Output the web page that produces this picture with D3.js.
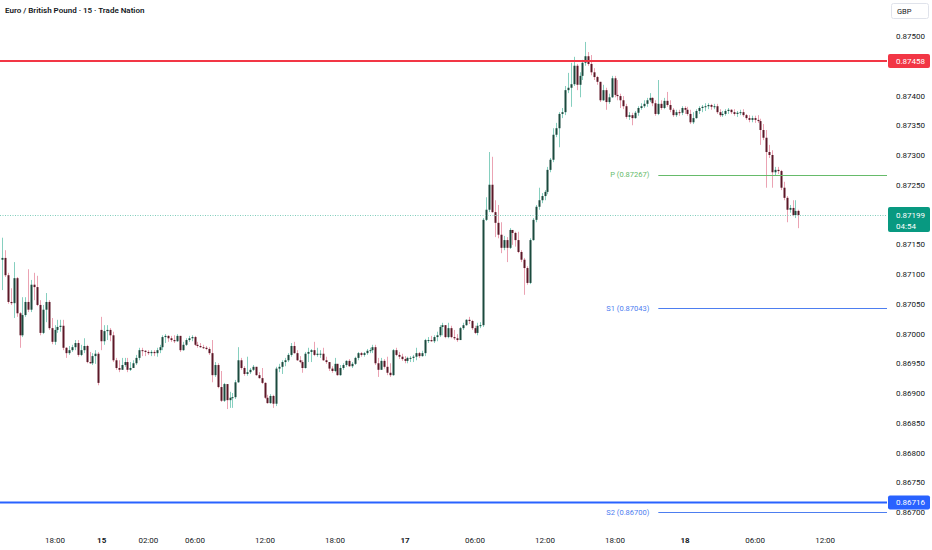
<!DOCTYPE html>
<html>
<head>
<meta charset="utf-8">
<script src="https://cdn.jsdelivr.net/npm/d3@7"></script>
<style>
  body { margin: 0; background: #fff; }
  svg { display: block; font-family: Roboto, "Noto Sans", sans-serif; }
</style>
</head>
<body>
<svg id="chart" width="932" height="550"></svg>
<script>
// EUR/GBP 15m candles, prices in 1e-5 units (open = previous close)
const PT = 1e-5;
const firstOpen = 87124;
const gapOpens = { 34: 87006 }; // weekend gap

const closes = [
  87127, 87098, 87053, 87051, 87093, 87034, 86997, 87031, 87053, 87040, 87082, 87078, 87048, 87001, 87040, 87053,
  87009, 86986, 87006, 87011, 87013, 86976, 86967, 86972, 86977, 86984, 86964, 86972, 86979, 86952, 86950, 86962,
  86966, 86917, 86987, 87004, 87006, 86997, 86955, 86942, 86939, 86947, 86952, 86939, 86942, 86950, 86959, 86972,
  86971, 86969, 86967, 86969, 86967, 86972, 86977, 86994,
  86996, 86992, 86989, 86987, 86996, 86972, 86981, 86989, 86992, 86994, 86981, 86979, 86977, 86976, 86974, 86967,
  86930, 86947, 86910, 86887, 86915, 86888, 86892, 86893, 86918, 86955, 86942, 86932, 86935, 86939, 86944, 86930,
  86925, 86917, 86892, 86883, 86895, 86882, 86941, 86944, 86952, 86955, 86964, 86979, 86967, 86955, 86952, 86942,
  86966, 86969, 86972, 86964, 86966, 86966,
  86955, 86952, 86941, 86937, 86949, 86930, 86942, 86947, 86954, 86945, 86949, 86959, 86967, 86964, 86967, 86971,
  86972, 86977, 86950, 86939, 86954, 86944, 86934, 86930, 86972, 86964, 86961, 86957, 86954, 86959, 86959, 86961,
  86967, 86962, 86967, 86989, 86989, 86987, 86994, 86997, 87011, 87014, 86994, 87009, 86994, 86992, 86989, 87009,
  87014, 87023, 87021, 87009, 87001, 87013, 87014, 87191, 87208, 87250, 87204, 87186, 87166, 87144, 87157, 87144,
  87174, 87169, 87157, 87137, 87124, 87110, 87085, 87157, 87191,
  87213, 87224, 87231, 87238, 87275, 87292, 87334, 87345, 87369, 87372, 87409, 87413, 87419, 87450, 87418, 87433,
  87455, 87466, 87453, 87439, 87431, 87423, 87392, 87409, 87389, 87397, 87429, 87401, 87399, 87392, 87382, 87364,
  87367, 87362, 87371, 87379, 87382, 87386, 87392, 87396, 87387, 87369, 87386, 87379, 87391, 87384, 87376, 87367,
  87372, 87371, 87379, 87376, 87369, 87355, 87362, 87374, 87379, 87381, 87382, 87384, 87381, 87382, 87372, 87367,
  87369, 87374, 87376, 87372, 87369, 87371, 87372, 87367, 87362, 87359, 87362, 87359, 87357, 87342, 87329, 87305,
  87300, 87271, 87275, 87273, 87245, 87228, 87208, 87211, 87199, 87206, 87199
];

const highs = [
  87161, 87140, 87102, 87076, 87120, 87095, 87036, 87061, 87061, 87108, 87090, 87102, 87097, 87056, 87048, 87068,
  87056, 87026, 87014, 87023, 87023, 87023, 86977, 86979, 86981, 86989, 86989, 86981, 86992, 86981, 86969, 86967,
  86972, 86969, 87028, 87014, 87014, 87009, 87003, 86959, 86955, 86959, 86959, 86959, 86952, 86955, 86964, 86976,
  86976, 86972, 86972, 86972, 86972, 86976, 86981, 86997,
  86999, 86997, 86996, 86997, 86999, 86992, 86986, 86992, 86996, 86997, 86996, 86986, 86984, 86981, 86979, 86977,
  86989, 86952, 86950, 86937, 86917, 86913, 86902, 86900, 86922, 86977, 86959, 86945, 86961, 86942, 86947, 86944,
  86935, 86942, 86918, 86897, 86898, 86897, 86944, 86949, 86955, 86959, 86967, 86984, 86986, 86972, 86962, 86955,
  86969, 86976, 86974, 86986, 86976, 86972,
  86976, 86961, 86952, 86945, 86959, 86947, 86947, 86950, 86955, 86957, 86952, 86961, 86969, 86969, 86969, 86974,
  86976, 86981, 86981, 86959, 86959, 86957, 86961, 86950, 86974, 86976, 86969, 86966, 86962, 86961, 86962, 86964,
  86976, 86969, 86971, 86991, 86994, 86996, 86997, 87003, 87014, 87018, 87014, 87018, 87013, 87006, 86999, 87011,
  87018, 87024, 87028, 87023, 87013, 87018, 87019, 87194, 87229, 87305, 87297, 87224, 87216, 87187, 87164, 87162,
  87177, 87174, 87171, 87171, 87140, 87127, 87113, 87160, 87194,
  87216, 87245, 87236, 87241, 87280, 87295, 87345, 87354, 87372, 87379, 87416, 87438, 87455, 87465, 87453, 87439,
  87460, 87490, 87473, 87468, 87446, 87433, 87419, 87418, 87413, 87403, 87433, 87433, 87426, 87403, 87399, 87386,
  87372, 87371, 87374, 87382, 87387, 87392, 87396, 87404, 87397, 87392, 87426, 87392, 87396, 87406, 87392, 87379,
  87376, 87376, 87382, 87382, 87381, 87376, 87372, 87377, 87382, 87384, 87387, 87387, 87386, 87386, 87386, 87377,
  87374, 87377, 87379, 87377, 87377, 87374, 87376, 87377, 87369, 87367, 87366, 87366, 87367, 87361, 87352, 87342,
  87317, 87308, 87280, 87280, 87275, 87255, 87231, 87216, 87224, 87224, 87208
];

const lows = [
  87073, 87095, 87050, 87048, 87026, 87028, 86976, 86994, 87028, 87036, 87036, 87056, 87046, 86997, 86999, 87019,
  87006, 86982, 86981, 87001, 87003, 86972, 86959, 86964, 86969, 86972, 86961, 86962, 86967, 86950, 86949, 86947,
  86949, 86913, 86972, 86981, 86989, 86987, 86952, 86939, 86935, 86939, 86944, 86935, 86937, 86944, 86947, 86955,
  86962, 86962, 86964, 86962, 86962, 86961, 86967, 86972,
  86984, 86986, 86986, 86984, 86986, 86969, 86971, 86979, 86986, 86987, 86979, 86976, 86976, 86974, 86972, 86964,
  86918, 86927, 86908, 86885, 86885, 86873, 86875, 86875, 86890, 86917, 86939, 86929, 86929, 86932, 86937, 86929,
  86924, 86915, 86890, 86882, 86882, 86875, 86878, 86935, 86932, 86945, 86952, 86961, 86966, 86954, 86950, 86934,
  86941, 86952, 86952, 86962, 86961, 86959,
  86954, 86949, 86937, 86934, 86935, 86929, 86929, 86939, 86944, 86944, 86942, 86947, 86955, 86961, 86961, 86964,
  86967, 86967, 86947, 86927, 86941, 86941, 86930, 86927, 86929, 86962, 86957, 86954, 86950, 86950, 86952, 86952,
  86955, 86959, 86961, 86962, 86984, 86986, 86984, 86987, 86994, 86997, 86992, 86992, 86992, 86989, 86986, 86989,
  87006, 87013, 87016, 87006, 86999, 86997, 87009, 87011, 87189, 87204, 87203, 87162, 87160, 87135, 87140, 87120,
  87142, 87149, 87146, 87135, 87120, 87065, 87082, 87083, 87156,
  87187, 87208, 87219, 87224, 87234, 87271, 87288, 87330, 87313, 87362, 87367, 87404, 87381, 87416, 87409, 87397,
  87426, 87450, 87450, 87434, 87426, 87418, 87389, 87391, 87376, 87386, 87396, 87397, 87392, 87379, 87377, 87361,
  87359, 87350, 87361, 87366, 87376, 87379, 87381, 87389, 87382, 87366, 87367, 87376, 87377, 87381, 87372, 87364,
  87364, 87366, 87367, 87369, 87366, 87352, 87352, 87361, 87369, 87372, 87374, 87377, 87376, 87377, 87369, 87364,
  87364, 87366, 87369, 87369, 87366, 87364, 87367, 87364, 87359, 87355, 87355, 87354, 87354, 87317, 87325, 87245,
  87295, 87245, 87266, 87268, 87241, 87224, 87187, 87203, 87197, 87194, 87177
];

// axis labels
const priceTicks = [0.867, 0.8675, 0.868, 0.8685, 0.869, 0.8695, 0.87, 0.8705, 0.871,
                    0.8715, 0.872, 0.8725, 0.873, 0.8735, 0.874, 0.8745, 0.875];
const timeTickIdx = [18, 34, 50, 66, 90, 114, 138, 162, 186, 210, 234, 258, 282];
const timeTickText = ["18:00", "15", "02:00", "06:00", "12:00", "18:00", "17", "06:00", "12:00", "18:00", "18", "06:00", "12:00"];
const dayTicks = ["15", "17", "18"];

// horizontal levels
const resistance = 0.87458;
const support = 0.86716;
const pivotNames = ["P", "S1", "S2"];
const pivotValues = [0.87267, 0.87043, 0.86700];
const pivotStartIdx = 225;
const lastPrice = 0.87199;
const countdown = "04:54";
const title = "Euro / British Pound · 15 · Trade Nation";

// build candles
const candles = closes.map((c, i) => {
  const o = i === 0 ? firstOpen : (gapOpens[i] ?? closes[i - 1]);
  return {
    i: i,
    o: o * PT,
    c: c * PT,
    h: Math.max(highs[i], o, c) * PT,
    l: Math.min(lows[i], o, c) * PT
  };
});

const svg = d3.select('#chart');
const plotRight = 887;

const x = d3.scaleLinear().domain([0, 303]).range([2, 2 + 303 * 2.917]);
const y = d3.scaleLinear().domain([0.867, 0.875]).range([512, 36]);

const colors = {
  upBody: '#1b4a3e', upWick: '#86cfbf',
  downBody: '#5c1727', downWick: '#eba3b3',
  red: '#f23645', blue: '#2962ff', teal: '#089981',
  pivotP: '#66bb6a', pivotS: '#4d7ef0', text: '#131722'
};

// candles
const cg = svg.append('g').attr('class', 'candles');
cg.selectAll('line')
  .data(candles)
  .join('line')
  .attr('x1', d => Math.round(x(d.i)) + 0.5)
  .attr('x2', d => Math.round(x(d.i)) + 0.5)
  .attr('y1', d => y(d.h))
  .attr('y2', d => y(d.l))
  .attr('stroke', d => d.c >= d.o ? colors.upWick : colors.downWick)
  .attr('stroke-width', 1);

cg.selectAll('rect')
  .data(candles)
  .join('rect')
  .attr('x', d => Math.round(x(d.i)) - 0.5)
  .attr('width', 2)
  .attr('y', d => y(Math.max(d.o, d.c)))
  .attr('height', d => Math.max(1, Math.abs(y(d.o) - y(d.c))))
  .attr('fill', d => d.c >= d.o ? colors.upBody : colors.downBody);

// current price dotted line
svg.append('line')
  .attr('x1', 0).attr('x2', plotRight)
  .attr('y1', Math.round(y(lastPrice)) + 0.5).attr('y2', Math.round(y(lastPrice)) + 0.5)
  .attr('stroke', '#7fcdbb')
  .attr('stroke-width', 1)
  .attr('stroke-dasharray', '1,1.5');

// resistance / support lines
svg.append('line')
  .attr('x1', 0).attr('x2', plotRight)
  .attr('y1', y(resistance)).attr('y2', y(resistance))
  .attr('stroke', colors.red).attr('stroke-width', 2);

svg.append('line')
  .attr('x1', 0).attr('x2', plotRight)
  .attr('y1', y(support)).attr('y2', y(support))
  .attr('stroke', colors.blue).attr('stroke-width', 2);

// pivot lines
pivotValues.forEach((v, k) => {
  const col = k === 0 ? colors.pivotP : colors.pivotS;
  svg.append('line')
    .attr('x1', x(pivotStartIdx)).attr('x2', plotRight)
    .attr('y1', Math.round(y(v)) + 0.5).attr('y2', Math.round(y(v)) + 0.5)
    .attr('stroke', col).attr('stroke-width', 1);
  svg.append('text')
    .attr('x', x(pivotStartIdx) - 9)
    .attr('y', y(v))
    .attr('dy', '0.35em')
    .attr('text-anchor', 'end')
    .attr('font-size', 7.5)
    .attr('fill', col)
    .text(`${pivotNames[k]} (${v.toFixed(5)})`);
});

// price axis (labels hidden under the price tags are skipped)
const tagged = [resistance, lastPrice];
const yAxis = d3.axisRight(y)
  .tickValues(priceTicks.filter(t => tagged.every(p => Math.abs(y(t) - y(p)) > 8)))
  .tickSize(0)
  .tickPadding(0)
  .tickFormat(d3.format('.5f'));

svg.append('g')
  .attr('transform', 'translate(896,0)')
  .call(yAxis)
  .call(g => g.select('.domain').remove())
  .call(g => g.selectAll('text')
    .attr('font-size', 8)
    .attr('font-family', 'Roboto, "Noto Sans", sans-serif')
    .attr('fill', colors.text));

// time axis
const xAxis = d3.axisBottom(x)
  .tickValues(timeTickIdx)
  .tickSize(0)
  .tickPadding(0)
  .tickFormat((d, k) => timeTickText[k]);

svg.append('g')
  .attr('transform', 'translate(0,537)')
  .call(xAxis)
  .call(g => g.select('.domain').remove())
  .call(g => g.selectAll('text')
    .attr('font-size', 8)
    .attr('font-family', 'Roboto, "Noto Sans", sans-serif')
    .attr('font-weight', (d, k) => dayTicks.includes(timeTickText[k]) ? 700 : 400)
    .attr('fill', colors.text));

// price label boxes on the axis
function priceTag(value, fill, h, top) {
  const cy = y(value);
  const g = svg.append('g');
  g.append('rect')
    .attr('x', 888).attr('y', cy - top)
    .attr('width', 42).attr('height', h)
    .attr('rx', 2)
    .attr('fill', fill);
  g.append('text')
    .attr('x', 896).attr('y', cy)
    .attr('dy', '0.35em')
    .attr('font-size', 8)
    .attr('fill', '#fff')
    .text(value.toFixed(5));
  return g;
}

priceTag(resistance, colors.red, 14, 7);
priceTag(support, colors.blue, 14, 7);
priceTag(lastPrice, colors.teal, 25, 8)
  .append('text')
  .attr('x', 896).attr('y', y(lastPrice) + 11.5)
  .attr('dy', '0.35em')
  .attr('font-size', 8)
  .attr('fill', '#fff')
  .text(countdown);

// currency box
svg.append('rect')
  .attr('x', 891.5).attr('y', 3.5)
  .attr('width', 37).attr('height', 15)
  .attr('rx', 2)
  .attr('fill', '#fff')
  .attr('stroke', '#e0e3eb');
svg.append('text')
  .attr('x', 897).attr('y', 11)
  .attr('dy', '0.35em')
  .attr('font-size', 7.5)
  .attr('fill', colors.text)
  .text('GBP');

// title
svg.append('text')
  .attr('x', 5).attr('y', 10)
  .attr('dy', '0.35em')
  .attr('font-size', 8)
  .attr('font-weight', 600)
  .attr('fill', colors.text)
  .text(title);
</script>
</body>
</html>
